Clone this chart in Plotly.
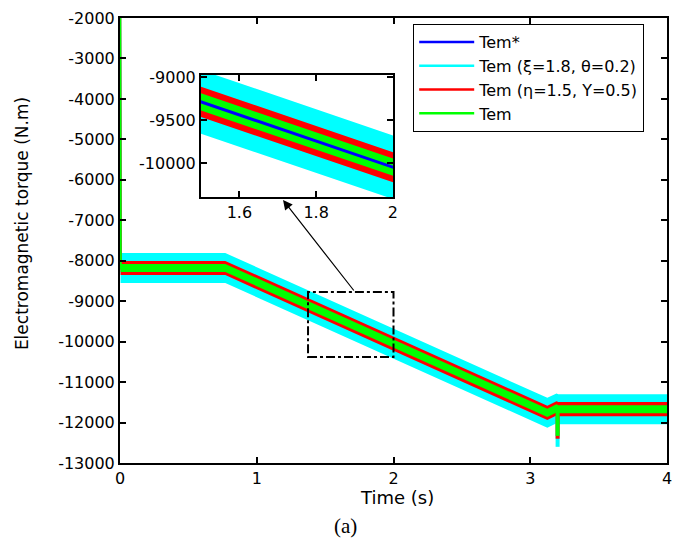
import numpy as np
import plotly.graph_objects as go

# ---------------- data ----------------
t = np.array([0.0, 0.004, 0.77, 3.125, 3.192, 3.205, 4.0])
tem_ref = np.array([-2000, -8180, -8180, -11760, -11650, -11670, -11670])

# short transient dip at t = 3.2 s (bottom of each trace)
spike_t = [3.2, 3.2]
spike_top = -11670
spike_low_cyan = -12600
spike_low_red = -12400
spike_low_green = -12330

# ripple half-amplitudes (N.m) of the three simulated torques
ripple_cyan = 370   # Tem (xi=1.8, theta=0.2)
ripple_red = 175    # Tem (eta=1.5, Y=0.5)
ripple_green = 100  # Tem

names = ["Tem*", "Tem (ξ=1.8, θ=0.2)", "Tem (η=1.5, Υ=0.5)", "Tem"]
colors = ["#0000FF", "#00FFFF", "#FF0000", "#00FF00"]

x_ticks = [0, 1, 2, 3, 4]
x_ticktext = ["0", "1", "2", "3", "4"]
y_ticks = list(range(-13000, -1999, 1000))
y_ticktext = [str(v) for v in y_ticks]

inset_x_ticks = [1.6, 1.8, 2.0]
inset_x_ticktext = ["1.6", "1.8", "2"]
inset_y_ticks = [-10000, -9500, -9000]
inset_y_ticktext = ["-10000", "-9500", "-9000"]

zoom_box_x = [1.375, 2.0]
zoom_box_y = [-10380, -8775]

FONT = "DejaVu Sans, Arial, sans-serif"

fig = go.Figure()


def band(xa, ya, hw, color):
    xs = list(t) + list(t[::-1])
    ys = list(tem_ref + hw) + list((tem_ref - hw)[::-1])
    return go.Scatter(x=xs, y=ys, fill="toself", fillcolor=color, mode="lines",
                      line=dict(width=0, color=color), showlegend=False,
                      hoverinfo="skip", xaxis=xa, yaxis=ya)


def center(xa, ya, color, w=2):
    return go.Scatter(x=t, y=tem_ref, mode="lines", line=dict(color=color, width=w),
                      showlegend=False, hoverinfo="skip", xaxis=xa, yaxis=ya)


def spike(low, color, w):
    return go.Scatter(x=spike_t, y=[spike_top, low], mode="lines",
                      line=dict(color=color, width=w), showlegend=False,
                      hoverinfo="skip")


# main axes
fig.add_trace(center("x", "y", colors[0]))
fig.add_trace(band("x", "y", ripple_cyan, colors[1]))
fig.add_trace(spike(spike_low_cyan, colors[1], 4))
fig.add_trace(center("x", "y", colors[1], 2.5))
fig.add_trace(band("x", "y", ripple_red, colors[2]))
fig.add_trace(spike(spike_low_red, colors[2], 4))
fig.add_trace(center("x", "y", colors[2], 2.5))
fig.add_trace(band("x", "y", ripple_green, colors[3]))
fig.add_trace(spike(spike_low_green, colors[3], 4))
fig.add_trace(center("x", "y", colors[3], 2.5))

# inset axes
fig.add_trace(band("x2", "y2", ripple_cyan, colors[1]))
fig.add_trace(band("x2", "y2", ripple_red, colors[2]))
fig.add_trace(band("x2", "y2", ripple_green, colors[3]))
fig.add_trace(center("x2", "y2", colors[0], 3))

# legend entries
for n, c in zip(names, colors):
    fig.add_trace(go.Scatter(x=[None], y=[None], mode="lines", name=n,
                             line=dict(color=c, width=2.5)))

axis_common = dict(showline=True, linecolor="black", linewidth=2, mirror="ticks",
                   ticks="inside", ticklen=6, tickwidth=1.5, tickcolor="black",
                   showgrid=False, zeroline=False, automargin=False,
                   tickfont=dict(family=FONT, size=16, color="black"))

# the page body adds an 8 px offset, so the figure is sized/margined to compensate
fig.update_layout(
    width=677, height=548,
    margin=dict(l=112, r=18, t=10, b=93),
    paper_bgcolor="white", plot_bgcolor="white",
    xaxis=dict(range=[0, 4], tickvals=x_ticks, ticktext=x_ticktext, domain=[0, 1], **axis_common),
    yaxis=dict(range=[-13000, -2000], tickvals=y_ticks, ticktext=y_ticktext, domain=[0, 1], **axis_common),
    xaxis2=dict(range=[1.5, 2.0], tickvals=inset_x_ticks, ticktext=inset_x_ticktext,
                domain=[0.148, 0.499], anchor="y2", **axis_common),
    yaxis2=dict(range=[-10395, -8977], tickvals=inset_y_ticks, ticktext=inset_y_ticktext,
                domain=[0.598, 0.872], anchor="x2", **axis_common),
    legend=dict(x=0.536, y=0.9865, xanchor="left", yanchor="top",
                bgcolor="white", bordercolor="black", borderwidth=1,
                font=dict(family=FONT, size=16, color="black"),
                itemwidth=55, tracegroupgap=0),
    showlegend=True,
)

fig.add_shape(type="rect", xref="x", yref="y", x0=zoom_box_x[0], x1=zoom_box_x[1],
              y0=zoom_box_y[0], y1=zoom_box_y[1],
              line=dict(color="black", width=2, dash="dashdot"), layer="above")

fig.add_annotation(x=0.298, y=0.591, xref="paper", yref="paper", ax=72, ay=92,
                   showarrow=True, arrowhead=2, arrowsize=1.6, arrowwidth=1.2,
                   arrowcolor="black", text="")

fig.add_annotation(x=0.506, y=-0.078, xref="paper", yref="paper", showarrow=False,
                   text="Time (s)", font=dict(family=FONT, size=18, color="black"),
                   xanchor="center", yanchor="middle")
fig.add_annotation(x=-0.179, y=0.537, xref="paper", yref="paper", showarrow=False,
                   text="Electromagnetic torque (N.m)", textangle=-90,
                   font=dict(family=FONT, size=17, color="black"),
                   xanchor="center", yanchor="middle")
fig.add_annotation(x=(345 - 120) / 547, y=(463 - 526) / 445, xref="paper", yref="paper",
                   showarrow=False, text="(a)",
                   font=dict(family="Liberation Serif, Times New Roman, serif", size=21, color="black"),
                   xanchor="center", yanchor="middle")

fig.write_html("out.html")
